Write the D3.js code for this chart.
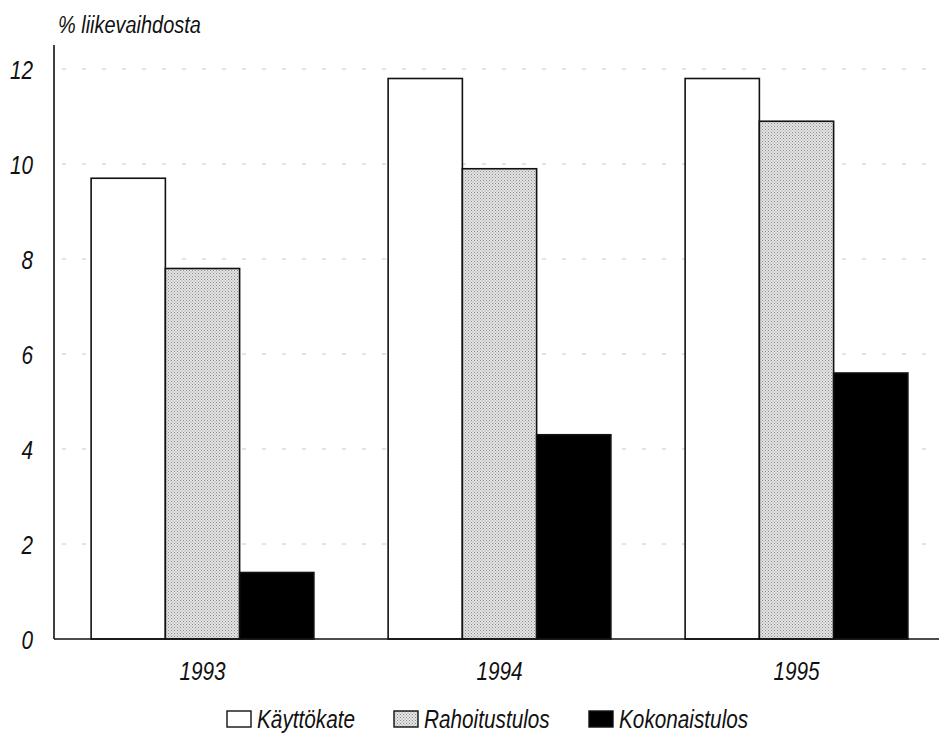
<!DOCTYPE html>
<html>
<head>
<meta charset="utf-8">
<script src="https://cdn.jsdelivr.net/npm/d3@7"></script>
<style>
  body { margin: 0; background: #fff; }
  text { font-family: "Liberation Sans", Arial, sans-serif; font-style: italic; fill: #111; }
</style>
</head>
<body>
<svg width="939" height="734"></svg>
<script>
// data
var years = ["1993", "1994", "1995"];
var series = ["Käyttökate", "Rahoitustulos", "Kokonaistulos"];
var kayttokate = [9.7, 11.8, 11.8];
var rahoitustulos = [7.8, 9.9, 10.9];
var kokonaistulos = [1.4, 4.3, 5.6];
var yTicks = [0, 2, 4, 6, 8, 10, 12];
var values = [kayttokate, rahoitustulos, kokonaistulos];

var svg = d3.select("svg");
var narrow = 0.83;  // the print font is a narrow Helvetica

// text placed at x,y but squeezed horizontally
function place(x, y) {
    return "translate(" + x + "," + y + ") scale(" + narrow + ",1)";
}

// dithered grey fill, like the print raster
var defs = svg.append("defs");
var pat = defs.append("pattern").attr("id", "dots")
    .attr("width", 3).attr("height", 3).attr("patternUnits", "userSpaceOnUse");
pat.append("rect").attr("width", 3).attr("height", 3).attr("fill", "#e4e4e4");
pat.append("rect").attr("x", 0).attr("y", 0).attr("width", 1).attr("height", 1).attr("fill", "#8a8a8a");
pat.append("rect").attr("x", 1.5).attr("y", 1.5).attr("width", 1).attr("height", 1).attr("fill", "#9a9a9a");

var fills = ["#ffffff", "url(#dots)", "#000000"];

var x0 = d3.scaleBand().domain(years).range([54, 945]).paddingInner(0.25).paddingOuter(0.125);
var x1 = d3.scaleBand().domain(series).range([0, x0.bandwidth()]);
var y = d3.scaleLinear().domain([0, 12]).range([639, 69]);

// gridlines
svg.append("g").selectAll("line")
    .data(yTicks.filter(function (d) { return d > 0; }))
    .enter().append("line")
    .attr("x1", 62).attr("x2", 939)
    .attr("y1", function (d) { return y(d); })
    .attr("y2", function (d) { return y(d); })
    .attr("stroke", "#c8c8c8")
    .attr("stroke-width", 1)
    .attr("stroke-dasharray", "4,16");

// bars
years.forEach(function (yr, i) {
    svg.append("g").selectAll("rect")
        .data(series)
        .enter().append("rect")
        .attr("x", function (s) { return x0(yr) + x1(s); })
        .attr("width", x1.bandwidth())
        .attr("y", function (s, j) { return y(values[j][i]); })
        .attr("height", function (s, j) { return y(0) - y(values[j][i]); })
        .attr("fill", function (s, j) { return fills[j]; })
        .attr("stroke", "#111")
        .attr("stroke-width", 1.6);
});

// axes
svg.append("line").attr("x1", 54).attr("x2", 54).attr("y1", 45).attr("y2", y(0))
    .attr("stroke", "#111").attr("stroke-width", 1.6);
svg.append("line").attr("x1", 54).attr("x2", 939).attr("y1", y(0)).attr("y2", y(0))
    .attr("stroke", "#111").attr("stroke-width", 1.6);

svg.append("g").selectAll("text")
    .data(yTicks)
    .enter().append("text")
    .attr("transform", function (d) { return place(33, y(d) + 10); })
    .attr("text-anchor", "end")
    .attr("font-size", 25)
    .text(function (d) { return d; });

svg.append("text").attr("transform", place(58, 33)).attr("font-size", 24).text("% liikevaihdosta");

// year labels
svg.append("g").selectAll("text")
    .data(years)
    .enter().append("text")
    .attr("transform", function (d) { return place(x0(d) + x0.bandwidth() / 2, 680); })
    .attr("text-anchor", "middle")
    .attr("font-size", 25)
    .text(function (d) { return d; });

// legend
var legX = [227, 394, 589];
var leg = svg.append("g").selectAll("g")
    .data(series)
    .enter().append("g")
    .attr("transform", function (d, i) { return "translate(" + legX[i] + ",0)"; });
leg.append("rect").attr("x", 0).attr("y", 711).attr("width", 24).attr("height", 16)
    .attr("fill", function (d, i) { return fills[i]; })
    .attr("stroke", "#111").attr("stroke-width", 1.4);
leg.append("text").attr("transform", place(30, 728)).attr("font-size", 25)
    .text(function (d) { return d; });
</script>
</body>
</html>
